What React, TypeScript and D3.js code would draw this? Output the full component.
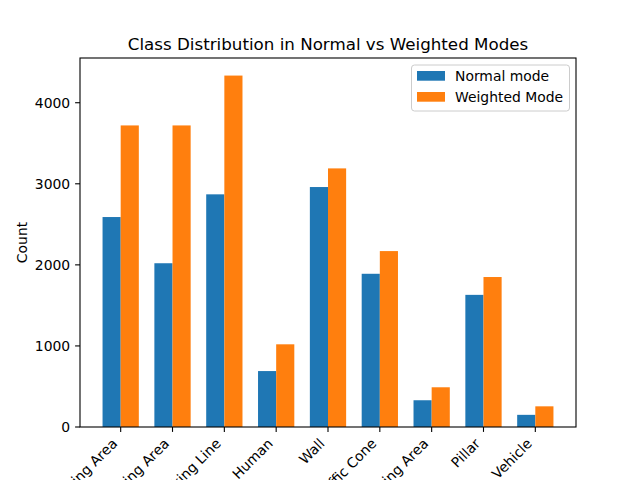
import React, { useEffect, useRef } from "react";
import * as d3 from "d3";

const categories = [
  "Parking Area",
  "Driving Area",
  "Parking Line",
  "Human",
  "Wall",
  "Traffic Cone",
  "No Parking Area",
  "Pillar",
  "Vehicle",
];
const normalValues = [2590, 2020, 2870, 690, 2960, 1890, 330, 1630, 150];
const weightedValues = [3720, 3720, 4335, 1020, 3190, 2170, 490, 1850, 255];
const seriesNames = ["Normal mode", "Weighted Mode"];
const seriesColors = ["#1f77b4", "#ff7f0e"];
const yTicks = [0, 1000, 2000, 3000, 4000];

const W = 640;
const H = 480;
const M = { left: 80, right: 576, top: 58, bottom: 427 };
const FONT = "DejaVu Sans, sans-serif";

export default function App() {
  const ref = useRef<SVGSVGElement | null>(null);

  useEffect(() => {
    const svg = d3.select(ref.current);
    svg.selectAll("*").remove();

    const n = categories.length;
    const bw = 0.35;
    const xmin = -bw, xmax = n - 1 + bw;
    const pad = (xmax - xmin) * 0.05;
    const x = d3.scaleLinear().domain([xmin - pad, xmax + pad]).range([M.left, M.right]);
    const maxV = d3.max([...normalValues, ...weightedValues]) as number;
    const y = d3.scaleLinear().domain([0, maxV * 1.05]).range([M.bottom, M.top]);

    svg.append("rect").attr("width", W).attr("height", H).attr("fill", "white");

    const series = [normalValues, weightedValues];
    series.forEach((vals, si) => {
      const off = si === 0 ? -bw / 2 : bw / 2;
      svg
        .append("g")
        .selectAll("rect")
        .data(vals)
        .join("rect")
        .attr("x", (_, i) => x(i + off - bw / 2))
        .attr("width", x(bw) - x(0))
        .attr("y", (d) => y(d))
        .attr("height", (d) => y(0) - y(d))
        .attr("fill", seriesColors[si]);
    });

    // axes frame
    svg
      .append("rect")
      .attr("x", M.left)
      .attr("y", M.top)
      .attr("width", M.right - M.left)
      .attr("height", M.bottom - M.top)
      .attr("fill", "none")
      .attr("stroke", "black")
      .attr("stroke-width", 1.1);

    // y ticks
    const yg = svg.append("g");
    yTicks.forEach((t) => {
      yg.append("line")
        .attr("x1", M.left - 4.9)
        .attr("x2", M.left)
        .attr("y1", y(t))
        .attr("y2", y(t))
        .attr("stroke", "black")
        .attr("stroke-width", 1.1);
      yg.append("text")
        .attr("x", M.left - 4.9 - 4.9)
        .attr("y", y(t))
        .attr("dy", "0.35em")
        .attr("text-anchor", "end")
        .attr("font-family", FONT)
        .attr("font-size", 13.9)
        .text(String(t));
    });

    // x ticks
    const xg = svg.append("g");
    categories.forEach((c, i) => {
      const tx = x(i);
      xg.append("line")
        .attr("x1", tx)
        .attr("x2", tx)
        .attr("y1", M.bottom)
        .attr("y2", M.bottom + 4.9)
        .attr("stroke", "black")
        .attr("stroke-width", 1.1);
      const ax = tx - 2.5;
      const ay = 444.5;
      xg.append("text")
        .attr("transform", `translate(${ax},${ay}) rotate(-45)`)
        .attr("text-anchor", "end")
        .attr("font-family", FONT)
        .attr("font-size", 13.9)
        .text(c);
    });

    // y label
    svg
      .append("text")
      .attr("transform", `translate(27,${(M.top + M.bottom) / 2}) rotate(-90)`)
      .attr("text-anchor", "middle")
      .attr("font-family", FONT)
      .attr("font-size", 13.9)
      .text("Count");

    // title
    svg
      .append("text")
      .attr("x", (M.left + M.right) / 2)
      .attr("y", 50)
      .attr("text-anchor", "middle")
      .attr("font-family", FONT)
      .attr("font-size", 16.7)
      .text("Class Distribution in Normal vs Weighted Modes");

    // legend
    const lg = svg.append("g");
    lg.append("rect")
      .attr("x", 411.5)
      .attr("y", 65)
      .attr("width", 158)
      .attr("height", 46)
      .attr("rx", 3)
      .attr("fill", "white")
      .attr("fill-opacity", 0.8)
      .attr("stroke", "#cccccc")
      .attr("stroke-width", 1);
    seriesNames.forEach((s, i) => {
      const cy = 76 + i * 21;
      lg.append("rect")
        .attr("x", 417)
        .attr("y", cy - 5)
        .attr("width", 28)
        .attr("height", 9.7)
        .attr("fill", seriesColors[i]);
      lg.append("text")
        .attr("x", 455)
        .attr("y", cy)
        .attr("dy", "0.35em")
        .attr("font-family", FONT)
        .attr("font-size", 13.9)
        .text(s);
    });
  }, []);

  return (
    <svg
      ref={ref}
      width={W}
      height={H}
      style={{ position: "absolute", left: 0, top: 0, display: "block" }}
    />
  );
}
